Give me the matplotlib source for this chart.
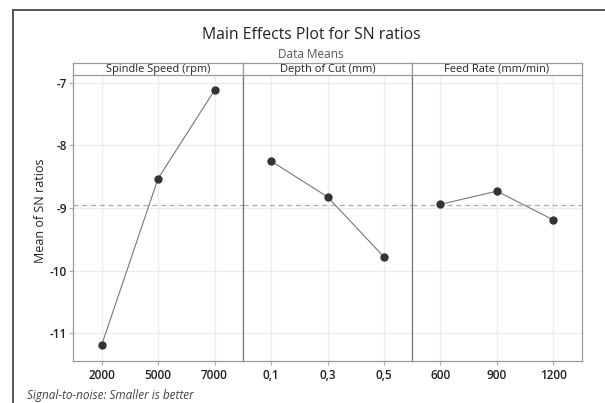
import matplotlib

matplotlib.use("Agg")
import matplotlib.pyplot as plt
from matplotlib.lines import Line2D
import numpy as np

plt.rcParams["font.family"] = ["Open Sans", "DejaVu Sans"]

factors = ["Spindle Speed (rpm)", "Depth of Cut (mm)", "Feed Rate (mm/min)"]
levels = [["2000", "5000", "7000"], ["0,1", "0,3", "0,5"], ["600", "900", "1200"]]
sn_means = [
    [-11.19, -8.53, -7.12],
    [-8.25, -8.82, -9.78],
    [-8.94, -8.73, -9.19],
]
yticks = [-7, -8, -9, -10, -11]

W, H = 605, 403
fig = plt.figure(figsize=(W / 100, H / 100), dpi=100)

# outer frame (cropped on right/bottom)
fig.add_artist(Line2D([13.3 / W, 13.3 / W], [0, 1 - 10 / H], color="#555555", lw=1.4))
fig.add_artist(Line2D([13.3 / W, 1], [1 - 10 / H, 1 - 10 / H], color="#555555", lw=1.4))

left, right = 73.3, 581.7
top_plot, bottom_plot, top_head = 75.0, 361.0, 62.7
pw = (right - left) / 3
grand_mean = np.mean([v for row in sn_means for v in row])

for i, (name, labs, vals) in enumerate(zip(factors, levels, sn_means)):
    x0 = left + i * pw
    ax = fig.add_axes([x0 / W, 1 - bottom_plot / H, pw / W, (bottom_plot - top_plot) / H])
    xs = np.arange(1, len(vals) + 1)
    ax.set_xlim(0.5, 3.5)
    ax.set_ylim(-11.439, -6.877)
    for t in yticks:
        ax.axhline(t, color="#ececec", lw=1.0, zorder=0)
    for x in xs:
        ax.axvline(x, color="#ececec", lw=1.0, zorder=0)
    ax.axhline(grand_mean, color="#aaaaaa", lw=0.9, ls=(0, (4, 3)), zorder=1)
    ax.plot(xs, vals, color="#777777", lw=0.8, zorder=2)
    ax.plot(xs, vals, "o", color="#333333", ms=5, zorder=3)
    ax.set_xticks(xs)
    ax.set_xticklabels(labs, fontsize=8.5, fontweight="semibold", color="#222222")
    ax.set_yticks(yticks)
    if i == 0:
        ax.set_yticklabels([str(t) for t in yticks], fontsize=8.5, fontweight="semibold", color="#222222")
    else:
        ax.tick_params(axis="y", left=False, labelleft=False)
    ax.tick_params(axis="both", length=3, width=0.8, color="#aaaaaa", pad=1.5)
    ax.tick_params(axis="x", pad=3)
    for side in ["left", "right", "bottom", "top"]:
        ax.spines[side].set_color("#9a9a9a")
        ax.spines[side].set_linewidth(0.9)
    ax.spines["top"].set_visible(False)
    if i > 0:
        ax.spines["left"].set_color("#777777")

    hx = fig.add_axes([x0 / W, 1 - top_plot / H, pw / W, (top_plot - top_head) / H])
    hx.set_xticks([])
    hx.set_yticks([])
    for side in hx.spines.values():
        side.set_color("#9a9a9a")
        side.set_linewidth(0.9)
    hx.text(0.5, 0.45, name, ha="center", va="center", fontsize=7.9,
            color="#222222", transform=hx.transAxes)

fig.text(40.5 / W, 1 - 211 / H, "Mean of SN ratios", ha="center", va="center",
         rotation=90, fontsize=9, color="#222222")
fig.text(311 / W, 1 - 35 / H, "Main Effects Plot for SN ratios", ha="center", va="center",
         fontsize=11.3, fontweight="medium", color="#222222")
fig.text(311 / W, 1 - 54 / H, "Data Means", ha="center", va="center",
         fontsize=8.5, color="#555555")
fig.text(27 / W, 1 - 395 / H, "Signal-to-noise: Smaller is better", ha="left", va="center",
         fontsize=8.5, style="italic", color="#444444")

fig.savefig("out.png", dpi=100)
